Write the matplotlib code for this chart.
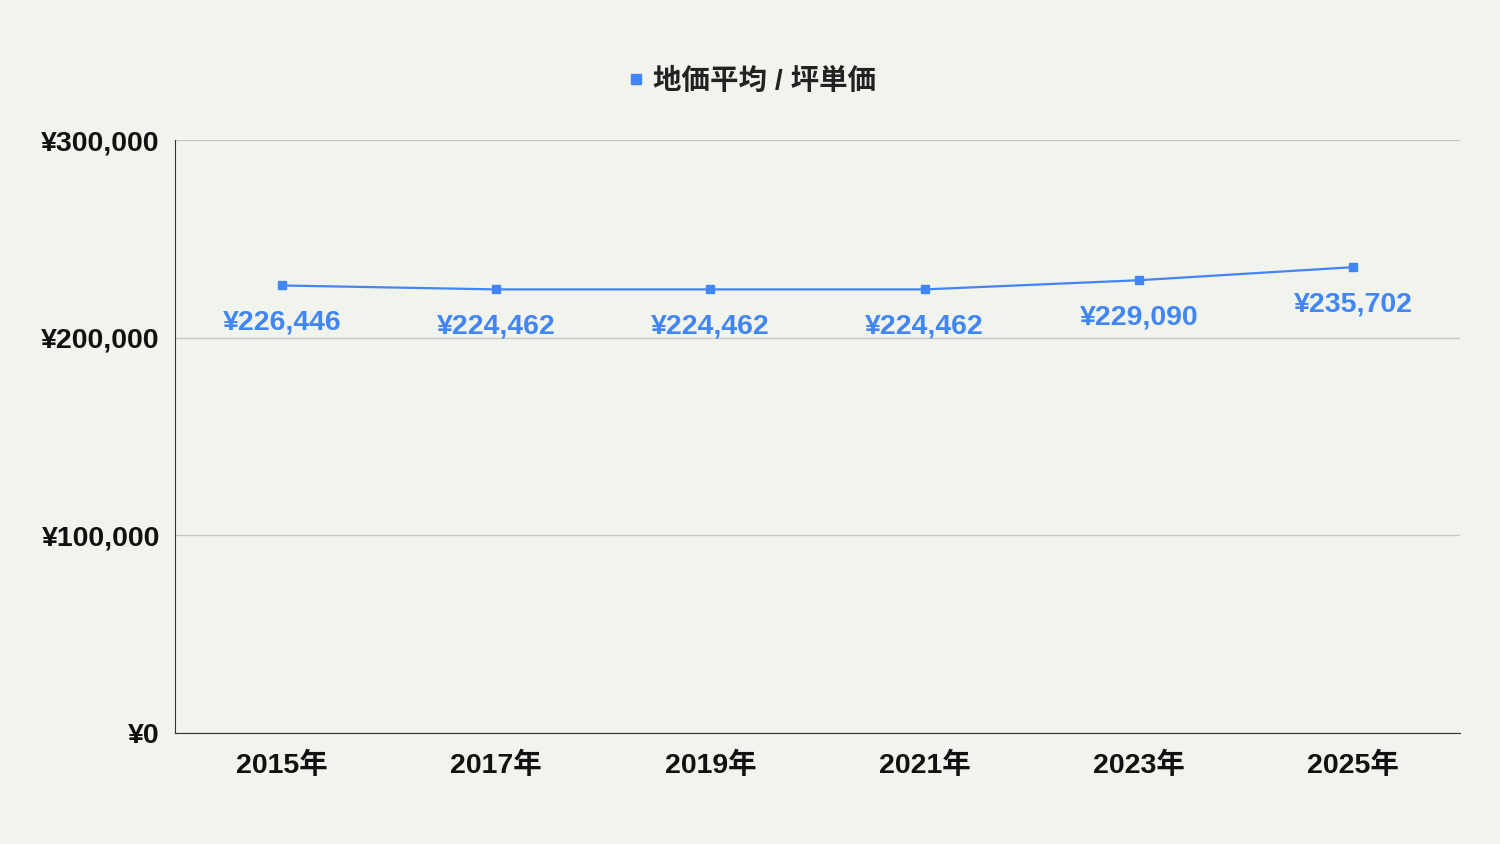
import matplotlib
matplotlib.use("Agg")
import matplotlib.pyplot as plt
from matplotlib.ticker import FuncFormatter

years = ["2015年", "2017年", "2019年", "2021年", "2023年", "2025年"]
values = [226446, 224462, 224462, 224462, 229090, 235702]
series_name = "地価平均 / 坪単価"
yticks = [0, 100000, 200000, 300000]

plt.rcParams['font.family'] = ['Liberation Sans', 'Noto Sans CJK JP', 'DejaVu Sans']
plt.rcParams['font.weight'] = 'bold'

bg = "#f1f3ed"
blue = "#4285f4"
fs = 20.5
fig = plt.figure(figsize=(15, 8.44), dpi=100, facecolor=bg)
ax = fig.add_axes([0.1167, 0.1315, 0.8566, 0.7025], facecolor=bg)

x = list(range(len(years)))
ax.plot(x, values, color=blue, linewidth=1.6, marker='s', markersize=6, label=series_name, zorder=3)
for xi, v in zip(x, values):
    ax.annotate(f"¥{v:,}", (xi, v), xytext=(0, -37), textcoords='offset pixels',
                ha='center', va='center', color=blue, fontsize=fs, fontweight='bold')

ax.set_xlim(-0.5, len(years) - 0.5)
ax.set_ylim(0, 300000)
ax.set_xticks(x)
ax.set_xticklabels(years, fontsize=fs, fontweight='bold', color='#111111')
ax.set_yticks(yticks)
ax.yaxis.set_major_formatter(FuncFormatter(lambda v, p: f"¥{int(v):,}"))
for lbl in ax.get_yticklabels():
    lbl.set_fontsize(fs)
    lbl.set_fontweight('bold')
    lbl.set_color('#111111')
ax.tick_params(axis='y', length=0, pad=11)
ax.tick_params(axis='x', length=0, pad=13.5)
ax.grid(axis='y', color='#c8c8c4', linewidth=1)
ax.set_axisbelow(True)
for s in ['top', 'right']:
    ax.spines[s].set_visible(False)
ax.spines['left'].set_color('#333333')
ax.spines['bottom'].set_color('#333333')

leg = fig.legend(handles=[plt.Line2D([], [], color=blue, marker='s', linestyle='None', markersize=7)],
                 labels=[series_name], loc='center', bbox_to_anchor=(0.5, 1 - 81 / 844),
                 frameon=False, fontsize=fs, handletextpad=0.2, handlelength=0.8)
for t in leg.get_texts():
    t.set_fontweight('bold')
    t.set_color('#222222')

fig.savefig("out.png", dpi=100, facecolor=bg)
